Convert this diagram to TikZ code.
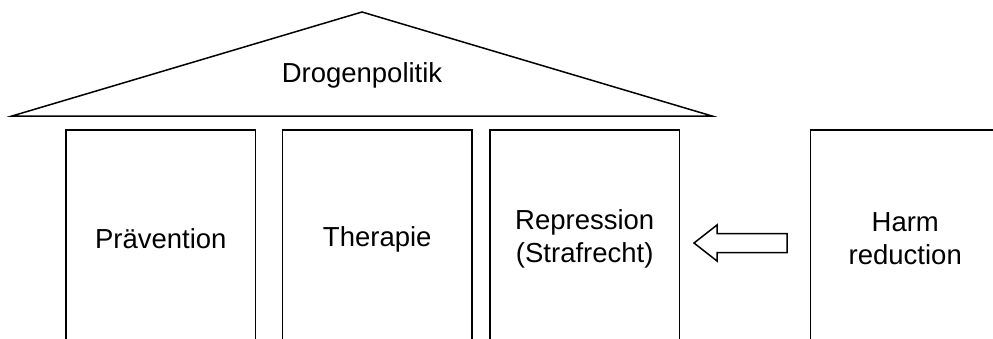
\documentclass[tikz,border=0pt]{standalone}
\usepackage{fontspec}
\setmainfont{Liberation Sans}
\usetikzlibrary{positioning}

\begin{document}
\begin{tikzpicture}[
    x=1pt, y=-1pt,
    font=\fontsize{27.5}{33}\selectfont,
    line width=1.5pt,
    pillar/.style={
        rectangle, draw, align=center, anchor=north west, outer sep=0pt,
        minimum width=189.5pt, minimum height=218pt, inner sep=0pt
    },
    blockarr/.style={draw, line join=miter},
]
    \clip (0,0) rectangle (993,338);

    % Dach
    \coordinate (eaveL) at (12,116);
    \coordinate (apex)  at (362,12);
    \coordinate (eaveR) at (712,116);
    \draw (eaveL) -- (apex) -- (eaveR) -- cycle;
    \node[anchor=base] (roof) at (362,82) {Drogenpolitik};

    % Saeulen (unten offen)
    \node[pillar]                     (praev) at (66,130) {Prävention};
    \node[pillar, right=27pt of praev] (ther)  {Therapie};
    \node[pillar, right=18pt of ther]  (repr)  {Repression\\(Strafrecht)};
    \node[pillar, right=131pt of repr] (harm)  {Harm\\reduction};

    % Blockpfeil von Harm reduction zur Repression
    \coordinate (tip) at (694,243);
    \draw[blockarr] (tip) -- ++(23,-18) -- ++(0,8.5) -- ++(70,0)
        -- ++(0,19) -- ++(-70,0) -- ++(0,8.5) -- cycle;

\end{tikzpicture}
\end{document}
